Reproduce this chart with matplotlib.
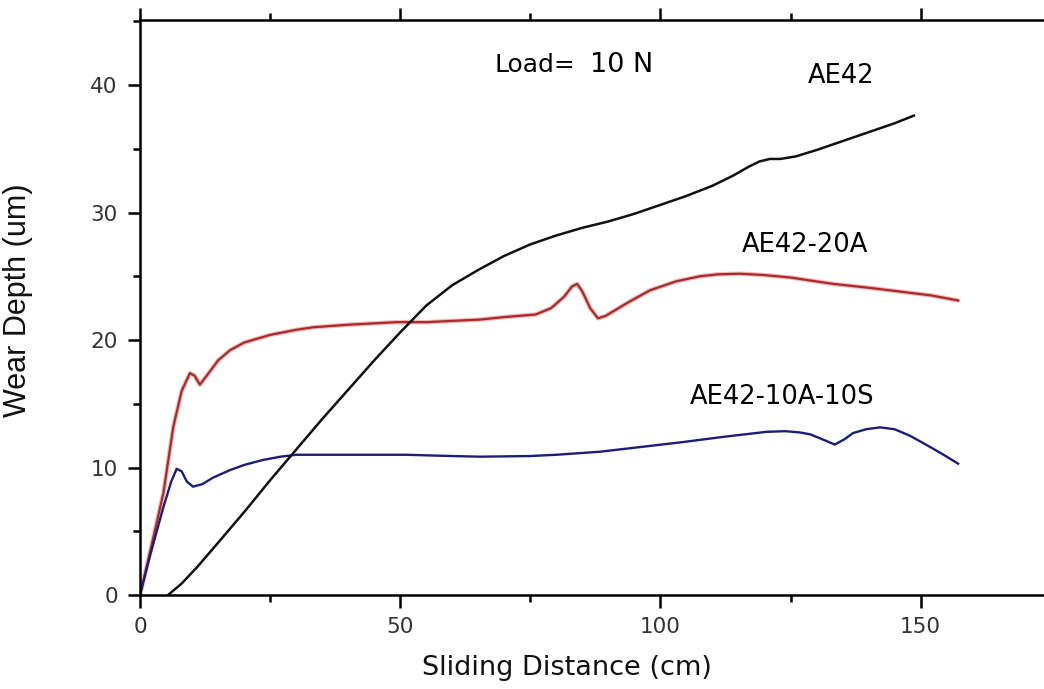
import numpy as np
import matplotlib.pyplot as plt
from matplotlib.ticker import MultipleLocator

plt.rcParams['font.family'] = 'DejaVu Sans'

# AE42 (black)
dist_ae42 = [5.4, 8, 11, 15, 20, 25, 30, 35, 40, 45, 50, 55, 60, 65, 70, 75, 80,
             85, 90, 95, 100, 105, 110, 114, 117, 119, 121, 123, 126, 130, 135,
             140, 145, 148.7]
depth_ae42 = [0, 0.9, 2.2, 4.1, 6.5, 9.0, 11.4, 13.8, 16.1, 18.4, 20.6, 22.7,
              24.3, 25.5, 26.6, 27.5, 28.2, 28.8, 29.3, 29.9, 30.6, 31.3, 32.1,
              32.9, 33.6, 34.0, 34.2, 34.2, 34.4, 34.9, 35.6, 36.3, 37.0, 37.6]

# AE42-20A (red)
dist_20a = [0, 2, 4.5, 6.4, 8, 9.6, 10.5, 11.5, 13, 15, 17.3, 20, 25, 30, 33.3,
            40, 49.3, 55, 60, 65.3, 70, 76, 79, 81.5, 83, 84, 85, 86.5, 88,
            89.5, 94, 98, 103, 107.6, 111, 115.3, 119.8, 125, 133.2, 140, 146,
            152, 157.2]
depth_20a = [0, 3.5, 8.0, 13.2, 16.0, 17.4, 17.2, 16.5, 17.3, 18.4, 19.2, 19.8,
             20.4, 20.8, 21.0, 21.2, 21.4, 21.4, 21.5, 21.6, 21.8, 22.0, 22.5,
             23.4, 24.2, 24.4, 23.8, 22.5, 21.7, 21.9, 23.0, 23.9, 24.6, 25.0,
             25.15, 25.2, 25.1, 24.9, 24.4, 24.1, 23.8, 23.5, 23.1]

# AE42-10A-10S (blue)
dist_10s = [0, 2, 4.5, 6, 7.05, 8, 9, 10.2, 12, 14, 17.3, 20, 23.7, 27, 30.1,
            40, 51.2, 60, 65.3, 75, 80, 88.4, 96, 104.4, 112, 120.4, 124, 126.8,
            128.8, 130.6, 133.5, 135.3, 137, 139.5, 142.2, 145, 147.9, 151, 154,
            157.2]
depth_10s = [0, 3.2, 6.9, 8.9, 9.9, 9.7, 8.9, 8.5, 8.7, 9.2, 9.8, 10.2, 10.6,
             10.85, 11.0, 11.0, 11.0, 10.9, 10.85, 10.9, 11.0, 11.24, 11.6, 12.0,
             12.4, 12.8, 12.85, 12.75, 12.6, 12.3, 11.8, 12.2, 12.7, 13.0, 13.15,
             13.0, 12.5, 11.8, 11.1, 10.3]

fig = plt.figure(figsize=(10.44, 6.89), dpi=100)
ax = fig.add_axes([0.1341, 0.1364, 0.8659, 0.8346])

ax.plot(dist_20a, depth_20a, color='#f2b8b8', lw=3.2, solid_capstyle='round')
ax.plot(dist_20a, depth_20a, color='#a82a2a', lw=1.6)
ax.plot(dist_10s, depth_10s, color='#1c1c7c', lw=1.7)
ax.plot(dist_ae42, depth_ae42, color='#111111', lw=1.8)

ax.set_xlim(0, 173.7)
ax.set_ylim(0, 45.1)
ax.xaxis.set_major_locator(MultipleLocator(50))
ax.xaxis.set_minor_locator(MultipleLocator(25))
ax.yaxis.set_major_locator(MultipleLocator(10))
ax.yaxis.set_minor_locator(MultipleLocator(5))

ax.spines['right'].set_visible(False)
for s in ['left', 'bottom', 'top']:
    ax.spines[s].set_linewidth(1.8)
ax.tick_params(which='both', direction='out', top=True, right=False,
               width=1.8, labelsize=15.5, labelcolor='#333333')
ax.tick_params(which='major', length=9, pad=7)
ax.tick_params(which='minor', length=5)

fig.text(0.543, 0.0305, 'Sliding Distance (cm)', fontsize=19.5,
         ha='center', va='center', color='#111111')
fig.text(0.0172, 0.5646, 'Wear Depth (um)', fontsize=22, rotation=90,
         ha='center', va='center', color='#111111', family='Liberation Sans')

ax.text(68.2, 41.05, 'Load=', fontsize=18, ha='left', va='baseline')
ax.text(86.5, 41.05, '10 N', fontsize=19.5, ha='left', va='baseline')
ax.text(134.8, 40.7, 'AE42', fontsize=18.5, ha='center', va='center')
ax.text(127.8, 27.45, 'AE42-20A', fontsize=18.5, ha='center', va='center')
ax.text(123.4, 15.56, 'AE42-10A-10S', fontsize=18.5, ha='center', va='center')

fig.savefig('out.png', dpi=100)
